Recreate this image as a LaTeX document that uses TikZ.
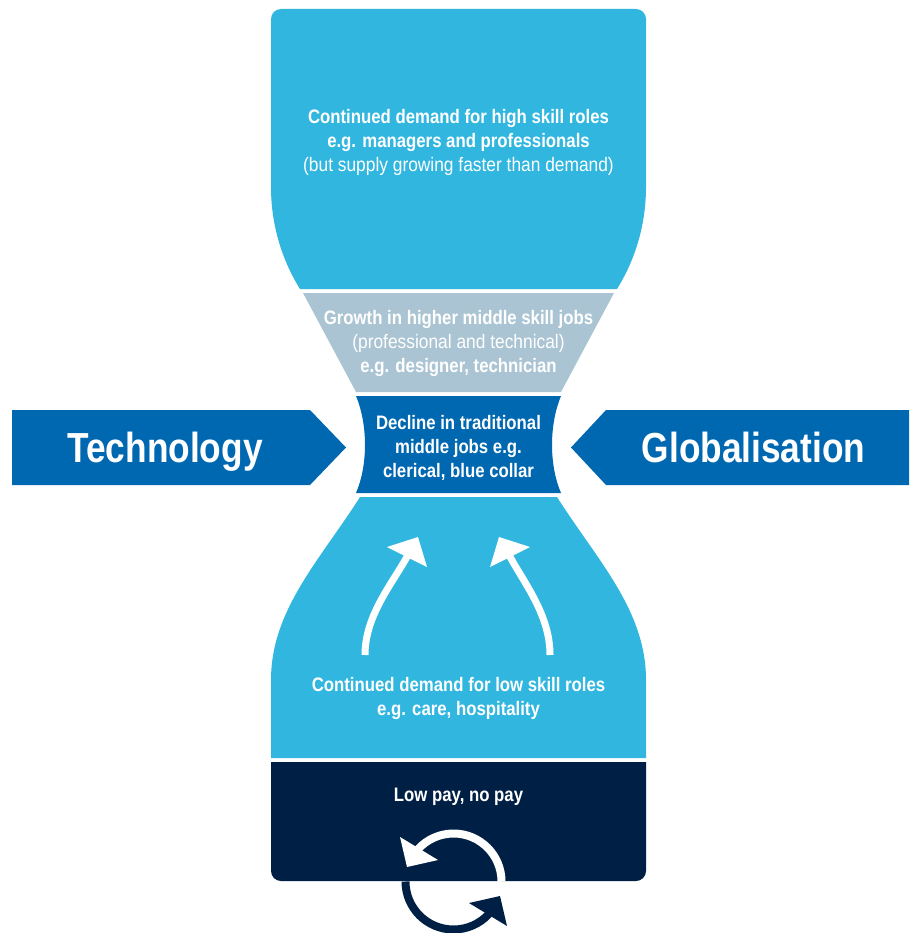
\documentclass[tikz,border=0pt]{standalone}
\usepackage{fontspec}
\setmainfont{Liberation Sans}[FakeStretch=0.86]
\newfontfamily\regc{Liberation Sans}[FakeStretch=0.89]
\newfontfamily\bigf{Liberation Sans}[FakeStretch=0.84]
\definecolor{lblue}{RGB}{48,182,223}
\definecolor{greyb}{RGB}{170,196,211}
\definecolor{mblue}{RGB}{0,104,177}
\definecolor{navy}{RGB}{0,31,69}
\tikzset{
  txt/.style={text=white, align=center, inner sep=0pt, font=\fontsize{19.5}{24}\selectfont},
  bigtxt/.style={text=white, inner sep=0pt, font=\bigf\fontsize{42}{48}\selectfont\bfseries},
  wshaft/.style={draw=white, line width=7pt},
  cyc/.style={line width=8pt},
}
\begin{document}
\begin{tikzpicture}[x=1pt,y=-1pt]
\useasboundingbox (0,0) rectangle (915,933);
% hourglass sections
\fill[lblue] (300,289) .. controls (285,265) and (271,230) .. (271,187) -- (271,19)
  .. controls (271,13.5) and (275.5,9) .. (281,9) -- (636,9)
  .. controls (641.5,9) and (646,13.5) .. (646,19) -- (646,187)
  .. controls (646,230) and (632,265) .. (617,289) -- cycle;
\fill[greyb] (303,293) -- (614,293) -- (561,392) -- (356,392) -- cycle;
\fill[mblue] (356,396) -- (561,396) .. controls (549,425) and (549,465) .. (561,493)
  -- (356,493) .. controls (368,465) and (368,425) .. (356,396) -- cycle;
\fill[lblue] (360,497) -- (557,497) .. controls (597,560) and (646,610) .. (646,680)
  -- (646,758) -- (271,758) -- (271,680) .. controls (271,610) and (320,560) .. (360,497) -- cycle;
\fill[navy] (271,762) -- (646,762) -- (646,871) .. controls (646,876.5) and (641.5,881) .. (636,881)
  -- (281,881) .. controls (275.5,881) and (271,876.5) .. (271,871) -- cycle;
% side arrows
\fill[mblue] (12,410) -- (310,410) -- (346,447.5) -- (310,485) -- (12,485) -- cycle;
\fill[mblue] (909,410) -- (606,410) -- (571,447.5) -- (606,485) -- (909,485) -- cycle;
% texts
\node[bigtxt, anchor=base] (tech) at (165,462) {Technology};
\node[bigtxt, anchor=base] (glob) at (753.5,462) {Globalisation};
\node[txt] (high) at (458.5,142) {\textbf{Continued demand for high skill roles}\\ \textbf{e.g. managers and professionals}\\ {\regc (but supply growing faster than demand)}};
\node[txt] (hmid) at (458.5,343) {\textbf{Growth in higher middle skill jobs}\\ {\regc (professional and technical)}\\ \textbf{e.g. designer, technician}};
\node[txt] (tmid) at (458.5,447.5) {\textbf{Decline in traditional}\\ \textbf{middle jobs e.g.}\\ \textbf{clerical, blue collar}};
\node[txt] (low) at (458.5,698.5) {\textbf{Continued demand for low skill roles}\\ \textbf{e.g. care, hospitality}};
\node[txt, anchor=base] (pay) at (458.5,801) {\textbf{Low pay, no pay}};
% upward white arrows
\coordinate (la0) at (365,655);
\coordinate (la1) at (408,555);
\coordinate (ra0) at (550,655);
\coordinate (ra1) at (509,555);
\draw[wshaft] (la0) .. controls (365,615) and (392.6,583.4) .. (la1);
\fill[white] (387,547) -- (418,537) -- (427,567) -- cycle;
\draw[wshaft] (ra0) .. controls (550,615) and (524.4,583.4) .. (ra1);
\fill[white] (530,547) -- (499,537) -- (490,567) -- cycle;
% cycle icon
\coordinate (cc) at (453.5,881.5);
\draw[cyc, white] (cc) ++(0:48pt) arc[start angle=0, end angle=138, radius=48pt];
\fill[white] (400,837) -- (407,867) -- (438,860) -- cycle;
\draw[cyc, navy] (cc) ++(180:48pt) arc[start angle=180, end angle=318, radius=48pt];
\fill[navy] (507,926) -- (500,896) -- (469,903) -- cycle;
\end{tikzpicture}
\end{document}
